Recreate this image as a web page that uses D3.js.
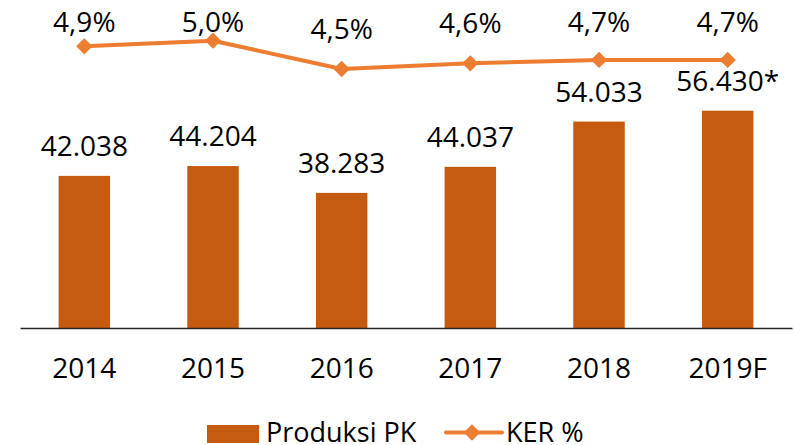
<!DOCTYPE html>
<html>
<head>
<meta charset="utf-8">
<script src="https://cdn.jsdelivr.net/npm/d3@7"></script>
<style>
  body { margin: 0; background: #fff; }
  text { font-family: "Open Sans", "Noto Sans", sans-serif; fill: #000; }
</style>
</head>
<body>
<script>
// data
var years = ["2014", "2015", "2016", "2017", "2018", "2019F"];
var produksi = [42038, 44204, 38283, 44037, 54033, 56430];
var ker = [4.9, 5.0, 4.5, 4.6, 4.66, 4.66];
var valueSuffix = ["", "", "", "", "", "*"];

// chart params
var svgWidth = 794;
var svgHeight = 445;
var barColor = "#C55A11";
var lineColor = "#ED7D31";

var plotLeft = 20;
var plotRight = 792;
var baseline = 328;

var svg = d3.select("body")
  .append("svg")
  .attr("width", svgWidth)
  .attr("height", svgHeight);

var x = d3.scaleBand()
  .domain(years)
  .range([plotLeft, plotRight])
  .paddingInner(0.6)
  .paddingOuter(0.3);

// bar axis does not start at zero in the source chart
var yBar = d3.scaleLinear()
  .domain([8450, 56430])
  .range([baseline, 110.7]);

var yLine = d3.scaleLinear()
  .domain([4, 5])
  .range([97.3, 40.7]);

var fmtThousands = v => d3.format(",")(v).replace(/,/g, ".");
var fmtPct = v => d3.format(".1f")(v).replace(".", ",") + "%";

// bars
svg.selectAll("rect.bar")
  .data(produksi)
  .enter()
  .append("rect")
  .attr("class", "bar")
  .attr("x", (d, i) => x(years[i]))
  .attr("y", d => yBar(d))
  .attr("width", x.bandwidth())
  .attr("height", d => baseline - yBar(d))
  .attr("fill", barColor);

// x axis
var xAxis = svg.append("g")
  .attr("transform", `translate(0, ${baseline})`)
  .call(d3.axisBottom(x).tickSize(0).tickPadding(30));
xAxis.select(".domain")
  .attr("stroke", "#262626")
  .attr("stroke-width", 1.5);
xAxis.selectAll("text")
  .attr("font-size", "28px")
  .attr("font-family", "Open Sans")
  .attr("fill", "#000");

// bar value labels
svg.selectAll("text.val")
  .data(produksi)
  .enter()
  .append("text")
  .attr("class", "val")
  .attr("x", (d, i) => x(years[i]) + x.bandwidth() / 2)
  .attr("y", d => yBar(d) - 20)
  .attr("text-anchor", "middle")
  .attr("font-size", "28px")
  .text((d, i) => fmtThousands(d) + valueSuffix[i]);

// KER line
var line = d3.line()
  .x((d, i) => x(years[i]) + x.bandwidth() / 2)
  .y(d => yLine(d));

svg.append("path")
  .datum(ker)
  .attr("d", line)
  .attr("fill", "none")
  .attr("stroke", lineColor)
  .attr("stroke-width", 4)
  .attr("stroke-linejoin", "round");

var diamond = d3.symbol().type(d3.symbolDiamond2).size(170);

svg.selectAll("path.marker")
  .data(ker)
  .enter()
  .append("path")
  .attr("class", "marker")
  .attr("d", diamond)
  .attr("transform", (d, i) => `translate(${x(years[i]) + x.bandwidth() / 2}, ${yLine(d)})`)
  .attr("fill", lineColor);

// labels sit above the point, but never higher than the top row
svg.selectAll("text.pct")
  .data(ker)
  .enter()
  .append("text")
  .attr("class", "pct")
  .attr("x", (d, i) => x(years[i]) + x.bandwidth() / 2)
  .attr("y", d => Math.max(yLine(d) - 30.5, 31.7))
  .attr("text-anchor", "middle")
  .attr("font-size", "28px")
  .text(d => fmtPct(d));

// legend
var legend = svg.append("g")
  .attr("transform", "translate(207, 425)");

legend.append("rect")
  .attr("width", 52)
  .attr("height", 18)
  .attr("fill", barColor);

legend.append("text")
  .attr("x", 59)
  .attr("y", 17)
  .attr("font-size", "27px")
  .text("Produksi PK");

legend.append("line")
  .attr("x1", 239)
  .attr("x2", 295)
  .attr("y1", 7.5)
  .attr("y2", 7.5)
  .attr("stroke", lineColor)
  .attr("stroke-width", 4)
  .attr("stroke-linecap", "round");

legend.append("path")
  .attr("d", diamond)
  .attr("transform", "translate(265, 7.5)")
  .attr("fill", lineColor);

legend.append("text")
  .attr("x", 299)
  .attr("y", 17)
  .attr("font-size", "27px")
  .text("KER %");
</script>
</body>
</html>
